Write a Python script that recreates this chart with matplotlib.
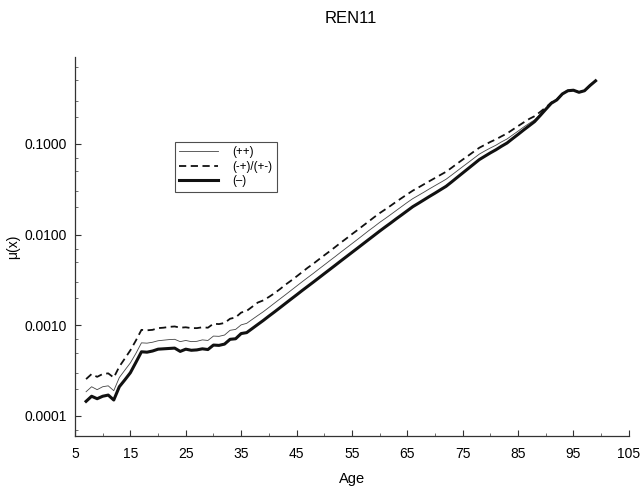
import matplotlib
matplotlib.use("Agg")
import matplotlib.pyplot as plt
from matplotlib.ticker import FixedLocator, FuncFormatter, MultipleLocator, LogLocator, NullFormatter

plt.rcParams['font.family'] = ['Liberation Sans', 'DejaVu Sans']

title = "REN11"
x_label = "Age"
y_label = "μ(x)"
series_labels = ["(++)", "(-+)/(+-)", "(–)"]

ages = list(range(7, 100))

mu_pp = [1.85e-4, 2.10e-4, 1.95e-4, 2.10e-4, 2.15e-4, 1.90e-4, 2.65e-4, 3.20e-4, 3.85e-4, 4.90e-4,
         6.40e-4, 6.35e-4, 6.50e-4, 6.75e-4, 6.85e-4, 6.95e-4, 7.00e-4, 6.60e-4, 6.80e-4, 6.60e-4,
         6.65e-4, 6.90e-4, 6.80e-4, 7.60e-4, 7.55e-4, 7.80e-4, 8.80e-4, 9.00e-4, 1.01e-3, 1.05e-3,
         1.16e-3, 1.28e-3, 1.41e-3, 1.57e-3, 1.75e-3, 1.95e-3, 2.17e-3, 2.42e-3, 2.70e-3, 3.01e-3,
         3.35e-3, 3.72e-3, 4.15e-3, 4.62e-3, 5.15e-3, 5.73e-3, 6.40e-3, 7.12e-3, 7.93e-3, 8.83e-3,
         9.85e-3, 1.10e-2, 1.22e-2, 1.36e-2, 1.50e-2, 1.66e-2, 1.84e-2, 2.04e-2, 2.26e-2, 2.49e-2,
         2.70e-2, 2.93e-2, 3.19e-2, 3.46e-2, 3.75e-2, 4.07e-2, 4.52e-2, 5.03e-2, 5.60e-2, 6.22e-2,
         6.92e-2, 7.70e-2, 8.35e-2, 9.00e-2, 9.65e-2, 1.05e-1, 1.13e-1, 1.25e-1, 1.38e-1, 1.53e-1,
         1.68e-1, 1.84e-1, 2.12e-1, 2.45e-1, 2.82e-1, 3.06e-1, 3.56e-1, 3.85e-1, 3.90e-1, 3.70e-1,
         3.85e-1, 4.40e-1, 4.95e-1]

mu_mixed = [2.55e-4, 2.90e-4, 2.70e-4, 2.90e-4, 2.95e-4, 2.65e-4, 3.50e-4, 4.30e-4, 5.30e-4, 6.80e-4,
            8.90e-4, 8.80e-4, 8.90e-4, 9.30e-4, 9.40e-4, 9.60e-4, 9.70e-4, 9.40e-4, 9.50e-4, 9.30e-4,
            9.30e-4, 9.50e-4, 9.40e-4, 1.04e-3, 1.03e-3, 1.06e-3, 1.18e-3, 1.22e-3, 1.38e-3, 1.44e-3,
            1.60e-3, 1.78e-3, 1.88e-3, 2.05e-3, 2.25e-3, 2.50e-3, 2.80e-3, 3.10e-3, 3.45e-3, 3.85e-3,
            4.30e-3, 4.75e-3, 5.30e-3, 5.90e-3, 6.55e-3, 7.30e-3, 8.15e-3, 9.05e-3, 1.01e-2, 1.12e-2,
            1.25e-2, 1.39e-2, 1.55e-2, 1.72e-2, 1.89e-2, 2.08e-2, 2.30e-2, 2.53e-2, 2.78e-2, 3.05e-2,
            3.30e-2, 3.58e-2, 3.88e-2, 4.20e-2, 4.55e-2, 4.92e-2, 5.45e-2, 6.05e-2, 6.70e-2, 7.40e-2,
            8.20e-2, 9.05e-2, 9.75e-2, 1.05e-1, 1.12e-1, 1.21e-1, 1.30e-1, 1.43e-1, 1.57e-1, 1.72e-1,
            1.88e-1, 2.02e-1, 2.25e-1, 2.52e-1, 2.85e-1, 3.08e-1, 3.57e-1, 3.86e-1, 3.90e-1, 3.71e-1,
            3.86e-1, 4.40e-1, 4.95e-1]

mu_mm = [1.45e-4, 1.65e-4, 1.55e-4, 1.65e-4, 1.70e-4, 1.50e-4, 2.10e-4, 2.50e-4, 3.00e-4, 3.90e-4,
         5.10e-4, 5.05e-4, 5.20e-4, 5.45e-4, 5.50e-4, 5.55e-4, 5.60e-4, 5.15e-4, 5.45e-4, 5.30e-4,
         5.35e-4, 5.50e-4, 5.40e-4, 6.05e-4, 6.00e-4, 6.20e-4, 7.00e-4, 7.10e-4, 8.10e-4, 8.30e-4,
         9.20e-4, 1.02e-3, 1.13e-3, 1.26e-3, 1.40e-3, 1.56e-3, 1.74e-3, 1.94e-3, 2.16e-3, 2.41e-3,
         2.68e-3, 2.98e-3, 3.32e-3, 3.70e-3, 4.12e-3, 4.59e-3, 5.12e-3, 5.70e-3, 6.35e-3, 7.07e-3,
         7.88e-3, 8.78e-3, 9.78e-3, 1.09e-2, 1.21e-2, 1.34e-2, 1.49e-2, 1.65e-2, 1.83e-2, 2.03e-2,
         2.21e-2, 2.41e-2, 2.63e-2, 2.86e-2, 3.12e-2, 3.40e-2, 3.80e-2, 4.26e-2, 4.77e-2, 5.34e-2,
         5.98e-2, 6.70e-2, 7.30e-2, 7.95e-2, 8.60e-2, 9.40e-2, 1.02e-1, 1.14e-1, 1.27e-1, 1.42e-1,
         1.58e-1, 1.76e-1, 2.05e-1, 2.40e-1, 2.80e-1, 3.05e-1, 3.55e-1, 3.85e-1, 3.90e-1, 3.70e-1,
         3.85e-1, 4.40e-1, 4.95e-1]

x_ticks = [5, 15, 25, 35, 45, 55, 65, 75, 85, 95, 105]
y_ticks = [0.0001, 0.0010, 0.0100, 0.1000]

fig = plt.figure(figsize=(6.41, 4.90), dpi=100)
ax = fig.add_axes([0.117, 0.110, 0.864, 0.774])

ax.plot(ages, mu_pp, color='#444444', lw=0.6, label=series_labels[0])
ax.plot(ages, mu_mixed, color='#111111', lw=1.3, ls=(0, (4, 2.5)), label=series_labels[1])
ax.plot(ages, mu_mm, color='#111111', lw=2.2, label=series_labels[2])

ax.set_yscale('log')
ax.set_xlim(5, 105)
ax.set_ylim(6.0e-5, 0.91)

ax.xaxis.set_major_locator(FixedLocator(x_ticks))
ax.xaxis.set_minor_locator(MultipleLocator(5))
ax.yaxis.set_major_locator(FixedLocator(y_ticks))
ax.yaxis.set_minor_locator(LogLocator(base=10, subs=(2, 3, 5, 7)))
ax.yaxis.set_minor_formatter(NullFormatter())
ax.yaxis.set_major_formatter(FuncFormatter(lambda v, p: f"{v:.4f}"))

ax.spines['top'].set_visible(False)
ax.spines['right'].set_visible(False)
for s in ('left', 'bottom'):
    ax.spines[s].set_linewidth(0.9)
    ax.spines[s].set_color('#333333')

ax.tick_params(axis='both', which='major', direction='in', length=4, width=0.8,
               labelsize=10, color='#333333', pad=6)
ax.tick_params(axis='both', which='minor', direction='in', length=2, width=0.6, color='#555555')
ax.tick_params(axis='x', which='major', pad=8)

fig.text(0.548, 0.962, title, fontsize=12, ha='center', va='center')
ax.set_xlabel(x_label, fontsize=10.5, labelpad=8)
ax.set_ylabel(y_label, fontsize=10, labelpad=3)

leg = ax.legend(loc='upper left', bbox_to_anchor=(0.18, 0.776), fontsize=8.3,
                frameon=True, fancybox=False, shadow=False, handlelength=3.4,
                borderpad=0.4, labelspacing=0.2, handletextpad=1.2, borderaxespad=0)
leg.get_frame().set_edgecolor('#222222')
leg.get_frame().set_linewidth(0.8)

fig.savefig('out.png', dpi=100)
